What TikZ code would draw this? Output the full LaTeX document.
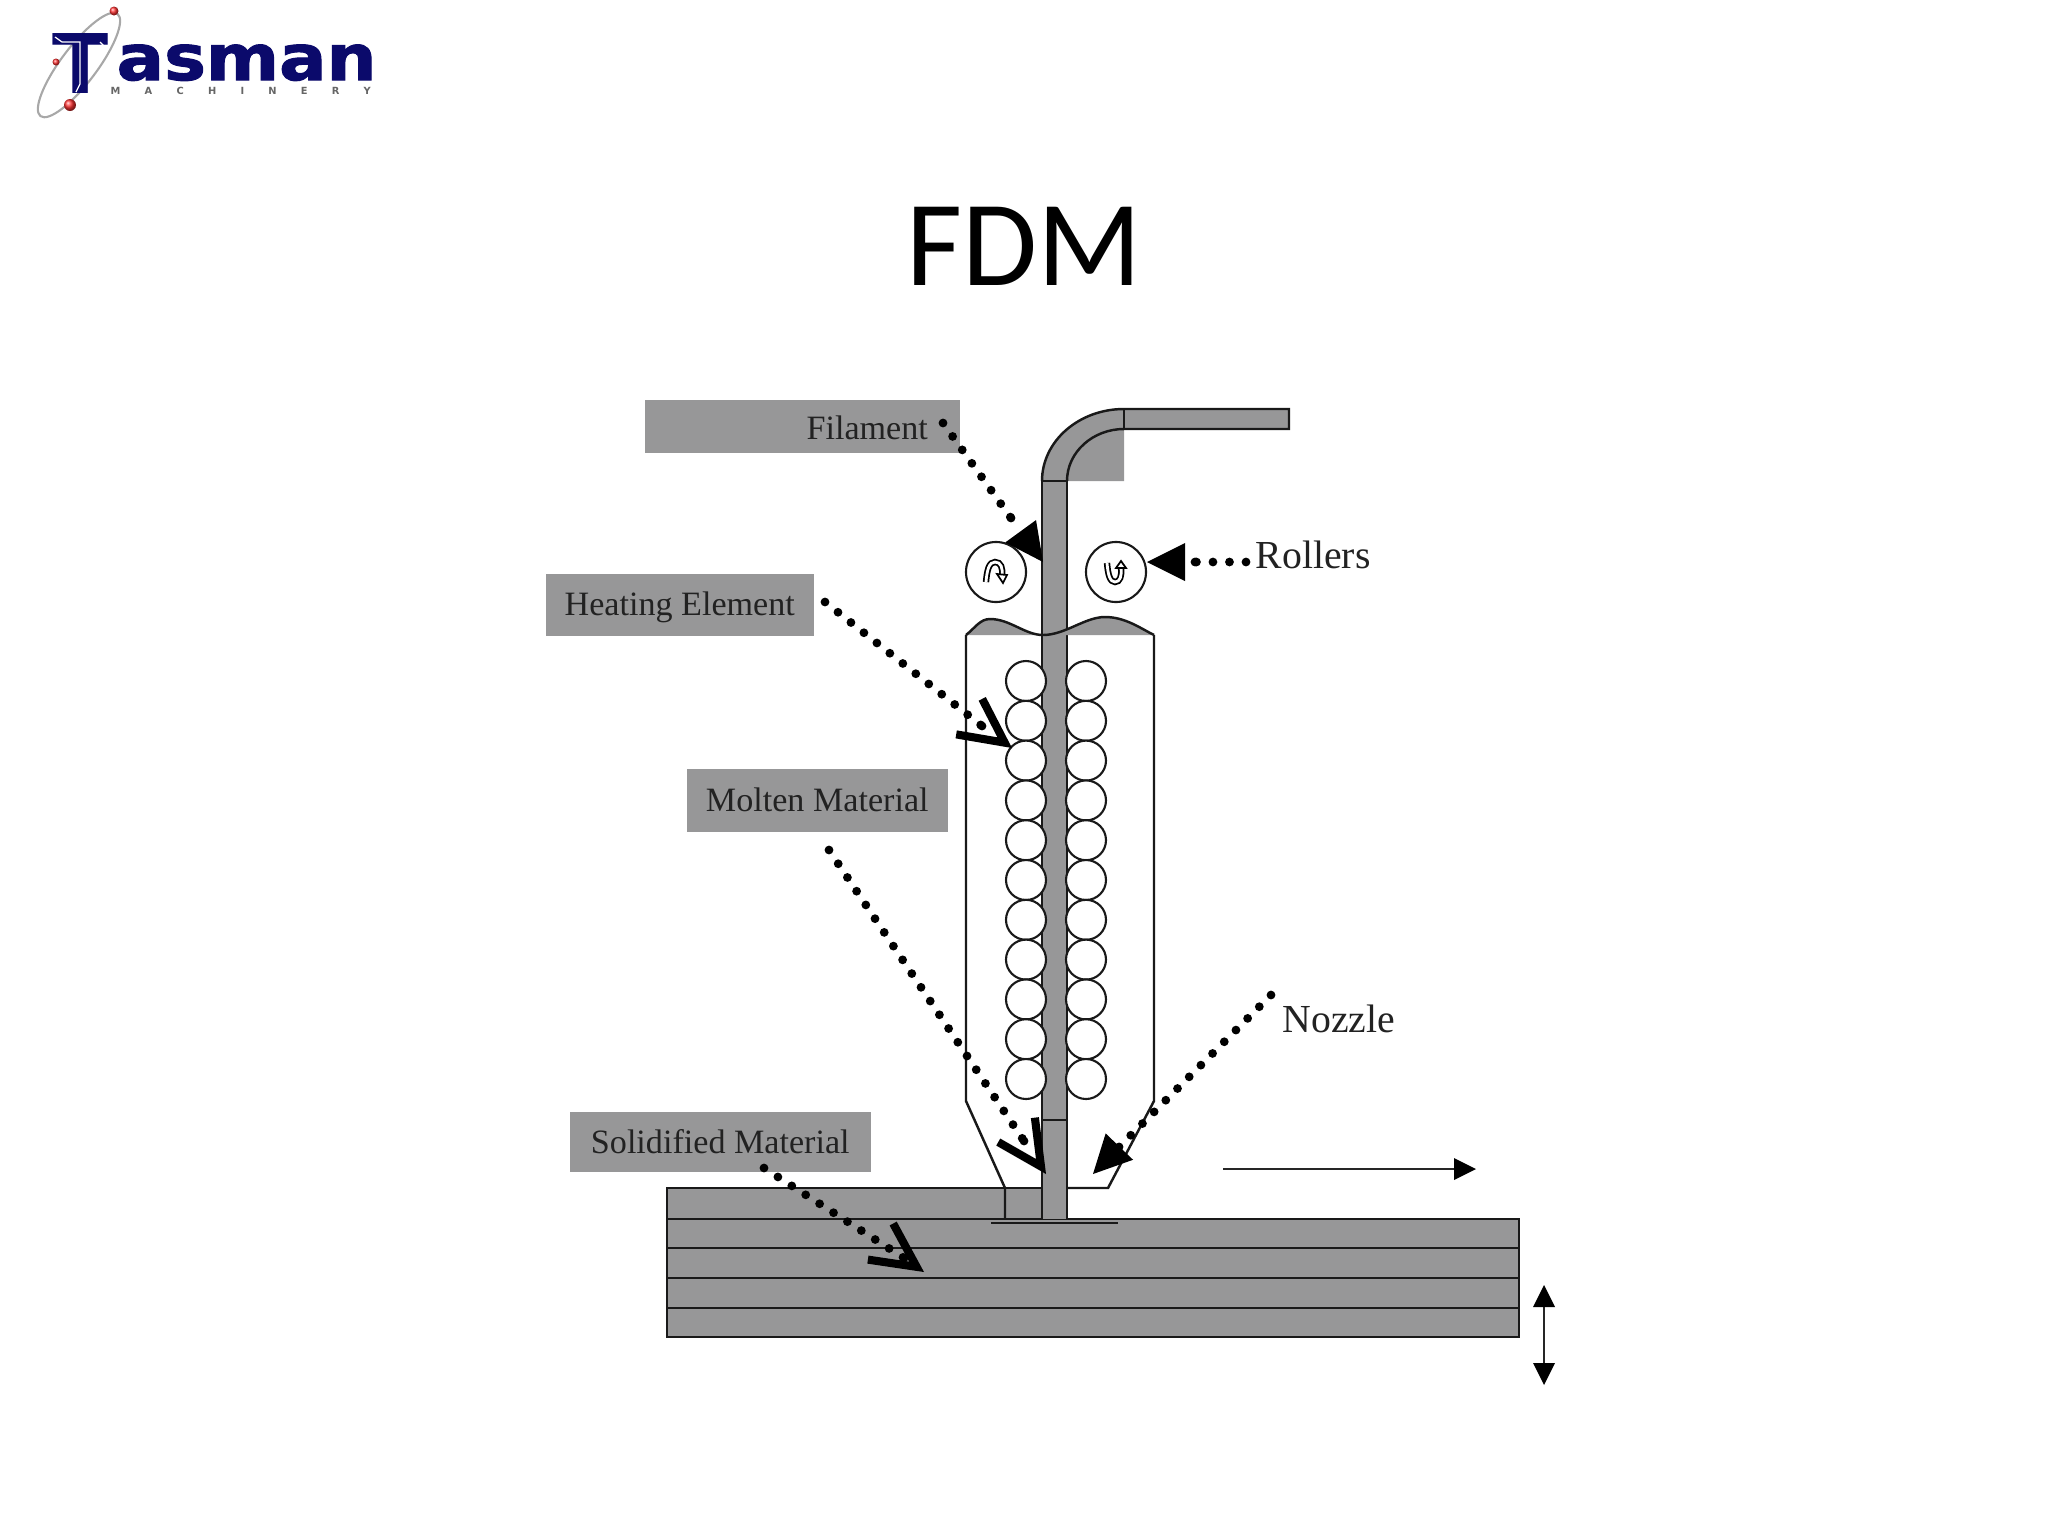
\documentclass[tikz,border=0pt]{standalone}
\usepackage{fontspec}
\usetikzlibrary{arrows.meta}
\setmainfont{Liberation Serif}
\newfontfamily\titlefont{Carlito}
\newfontfamily\logofont{DejaVu Sans}
\newfontfamily\logoheavy{DejaVu Sans Bold}[FakeBold=1.6]
\definecolor{fdmgray}{HTML}{979798}
\definecolor{logonavy}{HTML}{0B0A6B}
\definecolor{labink}{HTML}{222222}
\definecolor{orbit}{HTML}{A8A8A8}
\tikzset{
  x=0.01cm,y=-0.01cm,
  outline/.style={draw=black!90,line width=0.7pt,line join=miter},
  solidgray/.style={fill=fdmgray,draw=none},
  labelbox/.style={fill=fdmgray,draw=none,inner sep=0pt,text=labink,font=\fontsize{9.7}{12}\selectfont,anchor=north west,minimum height=0.5cm},
  freelabel/.style={text=labink,font=\fontsize{11.3}{14}\selectfont,inner sep=0pt},
  dotline/.style={line width=2.5pt,line cap=round,dash pattern=on 0pt off 4.7pt},
  dotend/.style={line width=2.5pt,line cap=round,dash pattern=on 0pt off 100cm},
  filledtip/.style={dotend,-{Triangle[length=0.38cm,width=0.38cm,line width=0pt]}},
  barbtip/.style={dotend,-{Straight Barb[length=0.44cm,width=0.44cm,line width=2.3pt]}},
  thinarrow/.style={draw=black!85,line width=0.7pt},
  ball/.style={shading=ball,ball color=red!80!white},
  glyph/.style={double=white,double distance=0.8pt,line width=0.5pt,draw=black},
  coil/.style={fill=white,draw=black!90,line width=0.6pt},
}
\begin{document}
\begin{tikzpicture}
\useasboundingbox (0,0) rectangle (2048,1536);

% --- logo ---
\draw[orbit,line width=0.6pt,rotate around={53:(79,65)}] (79,65) ellipse [x radius=64,y radius=18];
\node[anchor=base,inner sep=0pt,text=logonavy] (logoT) at (81,93) {\logofont\bfseries\fontsize{23.4}{28}\selectfont T};
\draw[white,line width=0.35pt] (55,37) -- (62,42) -- (80,42) -- (80,84) -- (76,92);
\draw[white,line width=0.35pt] (100,42) -- (106,48);
\node[anchor=base west,inner sep=0pt,text=logonavy] (logoName) at (116,80) {\logoheavy\fontsize{18}{22}\selectfont\scalebox{1.11}[1]{asman}};
\node[anchor=base west,inner sep=0pt,text=black!60] (logoSub) at (110,94) {\logofont\bfseries\fontsize{2.8}{3.2}\selectfont\makebox[2.6cm][s]{M A C H I N E R Y}};
\shade[ball] (114,11) circle (4.5);
\shade[ball] (56,62) circle (3.5);
\shade[ball] (70,105) circle (6);

% --- title ---
\node[font=\titlefont\fontsize{34.7}{40}\selectfont,inner sep=0pt] (title) at (1024,246) {FDM};

% --- label boxes ---
\node[labelbox,minimum width=3.15cm,minimum height=0.53cm,text width=2.51cm,inner xsep=0.32cm,text height=7.8pt,align=right] (lfil) at (644,399) {Filament};
\node[labelbox,minimum width=2.68cm,minimum height=0.62cm,text depth=0.8pt,align=center] (lheat) at (545,573) {Heating Element};
\node[labelbox,minimum width=2.61cm,minimum height=0.63cm,align=center] (lmolt) at (686,768) {Molten Material};
\node[labelbox,minimum width=3.01cm,minimum height=0.60cm,align=center] (lsol) at (569,1111) {Solidified Material};

% --- build platform layers ---
\fill[solidgray] (667,1188) rectangle (1067,1219);
\fill[solidgray] (667,1219) rectangle (1519,1337);
\draw[outline] (1108,1188) -- (667,1188) -- (667,1337) -- (1519,1337) -- (1519,1219) -- (667,1219);
\draw[outline] (667,1248) -- (1519,1248);
\draw[outline] (667,1278) -- (1519,1278);
\draw[outline] (667,1308) -- (1519,1308);
\draw[outline] (991,1223) -- (1118,1223);

% --- filament ---
\fill[solidgray] (1042,481) .. controls (1042,441) and (1079,409) .. (1124,409) -- (1124,481) -- cycle;
\fill[solidgray] (1124,409) rectangle (1289,429);
\fill[solidgray] (1042,481) rectangle (1067,1219);
\draw[outline] (1042,481) .. controls (1042,441) and (1079,409) .. (1124,409) -- (1289,409) -- (1289,429) -- (1124,429) .. controls (1093,429) and (1067,452) .. (1067,481);
\draw[outline] (1124,409) -- (1124,429);
\draw[outline] (1042,481) -- (1042,1219);
\draw[outline] (1067,481) -- (1067,1219);
\draw[outline] (1042,481) -- (1067,481);
\draw[outline] (1042,1120) -- (1067,1120);

% --- heater housing ---
\fill[solidgray] (966,635) .. controls (975,628) and (980,619) .. (990,619) .. controls (1010,619) and (1025,635) .. (1043,635) .. controls (1065,635) and (1085,617) .. (1105,617) .. controls (1125,617) and (1140,628) .. (1154,635) -- cycle;
\draw[outline] (966,635) .. controls (975,628) and (980,619) .. (990,619) .. controls (1010,619) and (1025,635) .. (1043,635) .. controls (1065,635) and (1085,617) .. (1105,617) .. controls (1125,617) and (1140,628) .. (1154,635);
\draw[outline] (966,635) -- (966,1101) -- (1005,1188) -- (1005,1219);
\draw[outline] (1154,635) -- (1154,1101) -- (1108,1188) -- (1067,1188);

% --- heating coils ---
\foreach \i in {0,...,10}{
  \draw[coil] (1026,681+39.8*\i) circle (20);
  \draw[coil] (1086,681+39.8*\i) circle (20);
}

% --- rollers ---
\node[circle,draw=black!90,line width=0.6pt,fill=white,minimum size=0.6cm,inner sep=0pt] (rollL) at (996,572) {};
\node[circle,draw=black!90,line width=0.6pt,fill=white,minimum size=0.6cm,inner sep=0pt] (rollR) at (1116,572) {};
\draw[glyph] (986,582) .. controls (987,570) and (989,562) .. (995,562) .. controls (1001,562) and (1003,568) .. (1002,576);
\draw[black,fill=white,line width=0.5pt] (997,574) -- (1007,575) -- (1003,583) -- cycle;
\draw[glyph] (1107,563) .. controls (1108,575) and (1110,582) .. (1115,582) .. controls (1120,582) and (1122,576) .. (1121,568);
\draw[black,fill=white,line width=0.5pt] (1116,568) -- (1126,568) -- (1121,561) -- cycle;

% --- free labels ---
\node[freelabel,anchor=west] (lroll) at (1255,555) {Rollers};
\node[freelabel,anchor=west] (lnoz) at (1282,1019) {Nozzle};

% --- dotted leaders ---
\coordinate (filS) at (943,423);  \coordinate (filE) at (1011,518);  \coordinate (filT) at (1043,562);
\coordinate (rolS) at (1246,562); \coordinate (rolE) at (1195,562);  \coordinate (rolT) at (1147,562);
\coordinate (heaS) at (825,602);  \coordinate (heaE) at (982,726);   \coordinate (heaT) at (1012,748);
\coordinate (molS) at (829,850);  \coordinate (molE) at (1024,1141); \coordinate (molT) at (1046,1174);
\coordinate (nozS) at (1271,995); \coordinate (nozE) at (1118,1148); \coordinate (nozT) at (1093,1174);
\coordinate (solS) at (764,1168); \coordinate (solE) at (904,1258);  \coordinate (solT) at (924,1272);

\draw[dotline] (filS) -- (filE);  \draw[filledtip] (filE) -- (filT);
\draw[dotline] (rolS) -- (rolE);  \draw[filledtip] (rolE) -- (rolT);
\draw[dotline] (heaS) -- (heaE);  \draw[barbtip] (heaE) -- (heaT);
\draw[dotline] (molS) -- (molE);  \draw[barbtip] (molE) -- (molT);
\draw[dotline] (nozS) -- (nozE);  \draw[filledtip] (nozE) -- (nozT);
\draw[dotline] (solS) -- (solE);  \draw[barbtip] (solE) -- (solT);

% --- motion arrows ---
\coordinate (moveA) at (1223,1169); \coordinate (moveB) at (1476,1169);
\coordinate (liftA) at (1544,1285); \coordinate (liftB) at (1544,1385);
\draw[thinarrow,-{Triangle[length=0.22cm,width=0.22cm,line width=0pt,fill=black]}] (moveA) -- (moveB);
\draw[thinarrow,{Triangle[length=0.22cm,width=0.22cm,line width=0pt,fill=black]}-{Triangle[length=0.22cm,width=0.22cm,line width=0pt,fill=black]}] (liftA) -- (liftB);
\end{tikzpicture}
\end{document}
